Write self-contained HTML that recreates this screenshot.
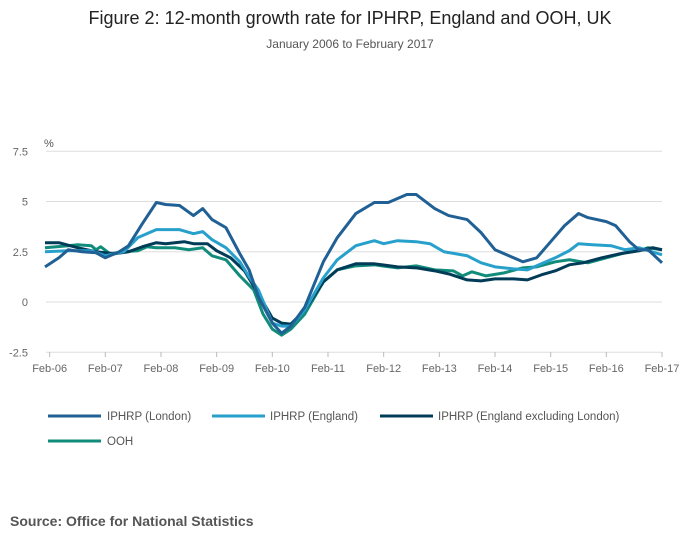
<!DOCTYPE html>
<html><head><meta charset="utf-8"><style>
body{margin:0;width:700px;height:549px;background:#fff;font-family:"Liberation Sans",sans-serif;overflow:hidden}
</style></head><body>
<svg width="700" height="549" id="c">
<text x="350" y="24" text-anchor="middle" font-size="18" fill="#222">Figure 2: 12-month growth rate for IPHRP, England and OOH, UK</text>
<text x="350" y="48" text-anchor="middle" font-size="12" fill="#555">January 2006 to February 2017</text>
<text x="44" y="147" font-size="11" fill="#555">%</text>
<g id="grid"></g><g id="xt"></g><g id="lines"></g>
<g font-size="11.5" fill="#555">
<line x1="48" y1="416" x2="101" y2="416" stroke="#206095" stroke-width="3"/><text x="107" y="420">IPHRP (London)</text>
<line x1="212" y1="416" x2="265" y2="416" stroke="#27a0cc" stroke-width="3"/><text x="270" y="420">IPHRP (England)</text>
<line x1="380" y1="416" x2="433" y2="416" stroke="#003c57" stroke-width="3"/><text x="438" y="420">IPHRP (England excluding London)</text>
<line x1="48" y1="441" x2="101" y2="441" stroke="#118c7b" stroke-width="3"/><text x="107" y="445">OOH</text>
</g>
<text x="10" y="526" font-size="14" font-weight="bold" fill="#555">Source: Office for National Statistics</text>
</svg>
<script>
const yTicks=[7.5,5,2.5,0,-2.5];
const yTickLabels=["7.5","5","2.5","0","-2.5"];
const xTickLabels=["Feb-06","Feb-07","Feb-08","Feb-09","Feb-10","Feb-11","Feb-12","Feb-13","Feb-14","Feb-15","Feb-16","Feb-17"];
const londonMonths=[0,3,5,8,11,13,16,18,21,24,26,29,32,34,36,39,42,44,46,49,51,53,56,60,63,67,71,74,78,80,84,87,91,94,97,100,103,106,109,112,115,117,121,123,126,128,130,133];
const londonValues=[1.75,2.2,2.6,2.5,2.45,2.2,2.5,2.8,3.9,4.95,4.85,4.8,4.3,4.65,4.1,3.7,2.4,1.6,0.25,-1.05,-1.55,-1.2,-0.25,2.0,3.2,4.4,4.95,4.95,5.35,5.35,4.65,4.3,4.1,3.45,2.6,2.3,2.0,2.2,3.0,3.8,4.4,4.2,4.0,3.8,3.0,2.6,2.6,1.95];
const englandMonths=[0,5,10,13,17,20,24,29,32,34,36,39,42,44,46,49,51,53,56,60,63,67,71,73,76,80,83,86,91,94,97,101,104,107,110,113,115,118,122,125,128,133];
const englandValues=[2.5,2.55,2.55,2.3,2.5,3.2,3.6,3.6,3.4,3.5,3.1,2.7,2.0,1.25,0.6,-1.05,-1.2,-1.2,-0.4,1.2,2.1,2.8,3.05,2.9,3.05,3.0,2.9,2.5,2.3,1.95,1.75,1.65,1.6,1.9,2.2,2.55,2.9,2.85,2.8,2.6,2.7,2.35];
const exclMonths=[0,3,7,11,15,18,21,24,26,30,32,35,37,40,43,46,49,51,53,56,60,63,67,71,76,80,84,87,91,94,97,101,104,107,110,113,116,120,124,128,131,133];
const exclValues=[2.95,2.95,2.7,2.5,2.4,2.5,2.75,2.95,2.9,3.0,2.9,2.9,2.55,2.2,1.55,0.4,-0.8,-1.05,-1.1,-0.4,1.0,1.6,1.9,1.9,1.75,1.7,1.55,1.4,1.1,1.05,1.15,1.15,1.1,1.35,1.55,1.85,1.95,2.2,2.4,2.55,2.7,2.6];
const oohMonths=[0,5,7,10,11,12,14,17,20,22,24,28,31,34,36,39,42,45,47,49,51,53,56,60,63,67,71,76,80,84,88,90,92,95,99,103,106,110,113,117,121,125,128,130,133];
const oohValues=[2.7,2.8,2.85,2.8,2.6,2.75,2.4,2.5,2.55,2.75,2.7,2.7,2.6,2.7,2.3,2.1,1.3,0.6,-0.6,-1.35,-1.65,-1.35,-0.6,1.0,1.6,1.8,1.85,1.7,1.8,1.6,1.55,1.3,1.5,1.3,1.45,1.7,1.75,2.0,2.1,1.95,2.2,2.45,2.55,2.7,2.6];
const NS="http://www.w3.org/2000/svg";
const xS=m=>45+m*(617/133);
const yS=v=>302-v*20.1;
function mk(t,a,p){const e=document.createElementNS(NS,t);for(const k in a)e.setAttribute(k,a[k]);p.appendChild(e);return e;}
const grid=document.getElementById('grid');
yTicks.forEach((v,i)=>{
 const l=mk('line',{x1:46,x2:662,y1:yS(v),y2:yS(v),stroke:'#ddd','stroke-width':1},grid);
 
 
 const t=mk('text',{x:28,y:yS(v)+4,'text-anchor':'end','font-size':11,fill:'#666'},grid);
 t.textContent=yTickLabels[i];
 
 
});
const xt=document.getElementById('xt');
xTickLabels.forEach((s,i)=>{
 const x=xS(1+12*i);
 const tk=mk('line',{x1:x,x2:x,y1:352,y2:357,stroke:'#bbb'},xt);
 
 
 const t=mk('text',{x:x,y:372,'text-anchor':'middle','font-size':11,fill:'#666'},xt);
 t.textContent=s;
 
 
});
const lines=document.getElementById('lines');
function draw(ms,vs,col,name){
 const p=mk('polyline',{points:ms.map((m,i)=>xS(m)+','+yS(vs[i])).join(' '),fill:'none',stroke:col,'stroke-width':3,'stroke-linejoin':'round'},lines);
 
 
}
draw(oohMonths,oohValues,'#118c7b','ooh-line');
draw(exclMonths,exclValues,'#003c57','iphrp-england-excl-london-line');
draw(englandMonths,englandValues,'#27a0cc','iphrp-england-line');
draw(londonMonths,londonValues,'#206095','iphrp-london-line');
</script>
</body></html>
